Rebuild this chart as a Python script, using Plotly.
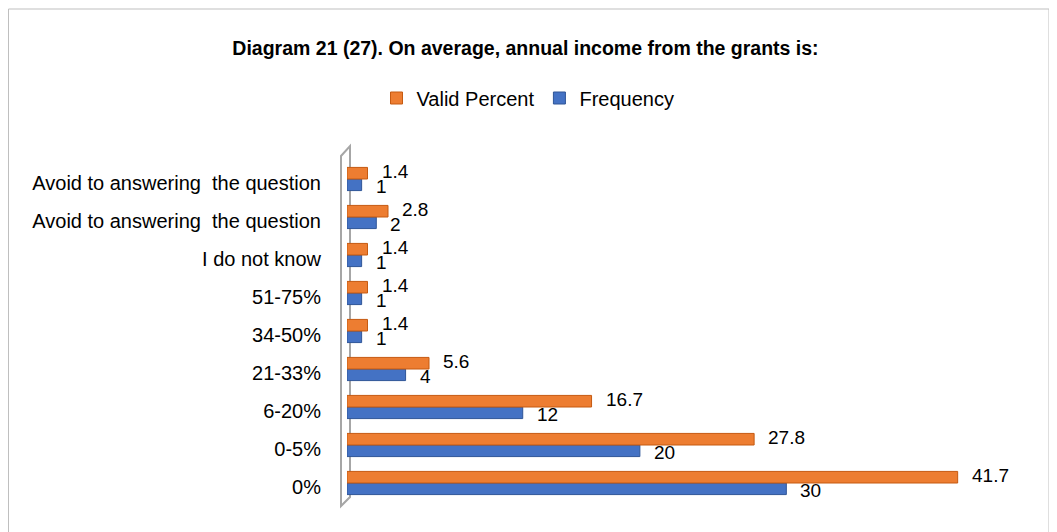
import plotly.graph_objects as go

categories = ["0%", "0-5%", "6-20%", "21-33%", "34-50%", "51-75%", "I do not know",
              "Avoid to answering  the question", "Avoid to answering  the question"]
frequency = [30, 20, 12, 4, 1, 1, 1, 2, 1]
valid_percent = [41.7, 27.8, 16.7, 5.6, 1.4, 1.4, 1.4, 2.8, 1.4]

# duplicate labels -> place by index and label with ticktext
ypos = list(range(len(categories)))
font = "Liberation Sans, Arial"
bargap = 0.39
half = (1 - bargap) / 4  # offset of each bar centre from the category centre

fig = go.Figure()
fig.add_trace(go.Bar(
    y=ypos, x=frequency, orientation="h", name="Frequency",
    marker=dict(color="#4472C4", line=dict(color="#2F5597", width=1)),
    legendrank=2,
))
fig.add_trace(go.Bar(
    y=ypos, x=valid_percent, orientation="h", name="Valid Percent",
    marker=dict(color="#ED7D31", line=dict(color="#C55A11", width=1)),
    legendrank=1,
))

# data labels, right of the bar ends
for i, v in enumerate(frequency):
    fig.add_annotation(x=v, y=i - half, text=str(v), showarrow=False,
                       xanchor="left", yanchor="middle", xshift=12, yshift=-2,
                       font=dict(size=19, color="#000000"))
for i, v in enumerate(valid_percent):
    fig.add_annotation(x=v, y=i + half, text=str(v), showarrow=False,
                       xanchor="left", yanchor="middle", xshift=12, yshift=2,
                       font=dict(size=19, color="#000000"))

# page body adds an 8px offset, so layout numbers are relative to that
W, H = 1057, 532
ml, mr, mt, mb = 339, 59, 152, 38
pw, ph = W - ml - mr, H - mt - mb


def px(x, y):
    # screen pixel -> paper coordinates
    return (x - 8 - ml) / pw, 1 - (y - 8 - mt) / ph


fig.update_layout(
    width=W, height=H,
    margin=dict(l=ml, r=mr, t=mt, b=mb, autoexpand=False),
    paper_bgcolor="white", plot_bgcolor="white",
    font=dict(family=font, size=19, color="#000000"),
    title=dict(text="<b>Diagram 21 (27). On average, annual income from the grants is:</b>",
               x=(525.5 - 8) / W, xref="container", xanchor="center", y=1 - 40 / H,
               yanchor="middle", font=dict(size=19.5)),
    legend=dict(orientation="h", x=(528 - 8) / W, xref="container", xanchor="center",
                y=1 - 90 / H, yref="container", yanchor="middle",
                font=dict(size=20), itemwidth=30),
    barmode="group", bargap=bargap, bargroupgap=0.0,
    showlegend=True,
)
fig.update_xaxes(range=[0, 45], showgrid=False, zeroline=False, showticklabels=False,
                 showline=False, automargin=False)
# labels sit a little below the bar pairs, as in the 3D original
fig.update_yaxes(tickvals=[p - 0.1 for p in ypos], ticktext=categories,
                 range=[-0.5, len(categories) - 0.5],
                 showline=False, showgrid=False, zeroline=False,
                 ticks="", ticklabelstandoff=25, tickfont=dict(size=20),
                 automargin=False)

# 3D wall behind the bars
pts = [px(341, 506), px(341, 156), px(350, 146), px(350, 497)]
path = "M " + " L ".join(f"{a},{b}" for a, b in pts) + " Z"
fig.add_shape(type="path", path=path, xref="paper", yref="paper", layer="below",
              line=dict(color="#A6A6A6", width=2), fillcolor="white")

# outer chart border
x0, y0 = px(8.5, 548)
x1, y1 = px(1049, 9)
fig.add_shape(type="rect", xref="paper", yref="paper", x0=x0, x1=x1, y0=y0, y1=y1,
              line=dict(color="#BFBFBF", width=1), fillcolor="rgba(0,0,0,0)")

fig.write_html("out.html")
